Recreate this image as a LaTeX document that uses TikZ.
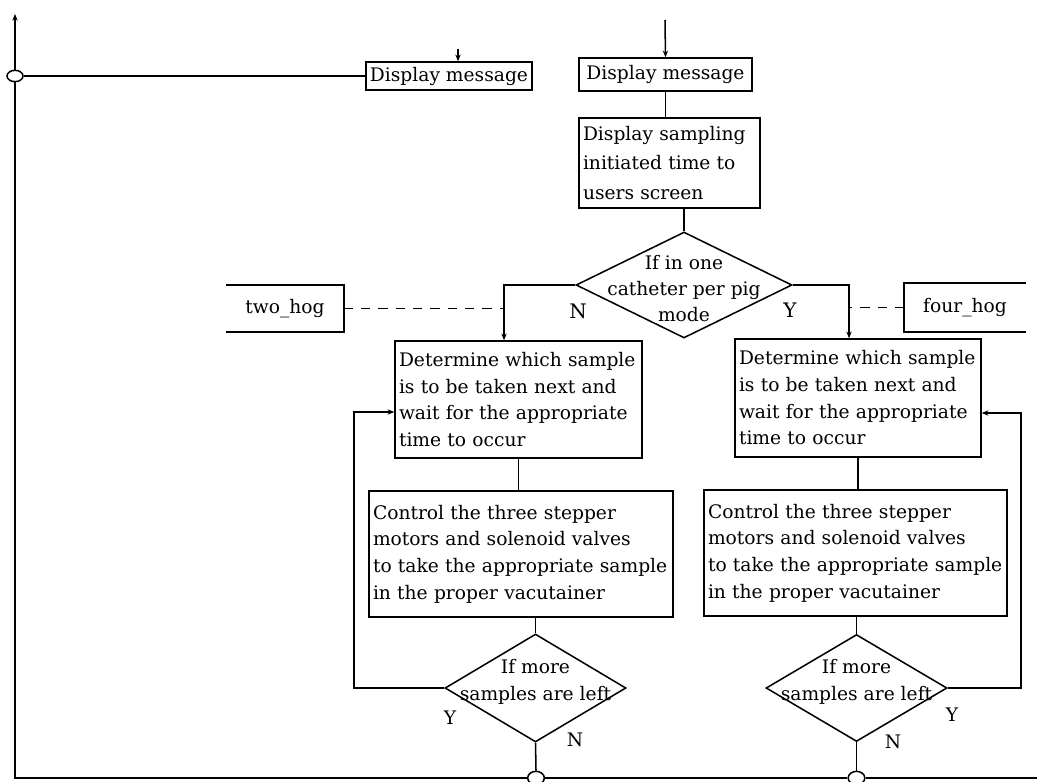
\documentclass[tikz,border=0pt]{standalone}
\usepackage{fontspec}
\setmainfont{DejaVu Serif}
\usetikzlibrary{shapes.geometric,arrows.meta,calc}
\begin{document}
\begin{tikzpicture}[x=0.75pt,y=-0.75pt,
  line width=1.15pt,
  every node/.style={font=\fontsize{14}{20}\selectfont},
  arr/.style={-{Stealth[length=5pt,width=4pt]}},
  sbox/.style={draw,inner sep=0pt,align=center},
  tbox/.style={draw,inner xsep=3pt,inner ysep=0pt,align=left},
  dia/.style={draw,diamond,inner sep=0pt},
  dtext/.style={align=center,inner sep=0pt},
  yn/.style={inner sep=0pt,font=\fontsize{14}{16}\selectfont},
  joint/.style={draw,ellipse,fill=white,inner sep=0pt},
  dashline/.style={dash pattern=on 7pt off 6pt}
]
\useasboundingbox (0,0) rectangle (1037,781);
\fill[white] (0,0) rectangle (1037,781);

% top display messages
\node[sbox,minimum width=124.5pt,minimum height=21pt] (dm1) at (449,76) {Display message};
\node[sbox,minimum width=129.75pt,minimum height=24.75pt] (dm2) at (665.5,74.5) {Display message};
\node[tbox,text width=129.75pt,minimum height=67.5pt,font=\fontsize{14}{22}\selectfont] (ds) at (669.5,163)
  {Display sampling\\initiated time to\\users screen};

% big decision
\node[dia,minimum width=162pt,minimum height=79.5pt] (bd) at (684,285) {};
\node[dtext,font=\fontsize{14}{19.5}\selectfont] (bdt) at (684,289) {If in one\\catheter per pig\\mode};
\node[yn,font=\fontsize{15}{16}\selectfont] (bn) at (578,311) {N};
\node[yn,font=\fontsize{15}{16}\selectfont] (by) at (790,310) {Y};

% hog boxes (open on one side)
\node[inner sep=0pt,minimum width=87pt,minimum height=33.75pt] (two) at (285,308.5) {two\_hog};
\draw (two.north west) -- (two.north east) -- (two.south east) -- (two.south west);
\node[inner sep=0pt,minimum width=90pt,minimum height=35.25pt] (four) at (965,307.5) {four\_hog};
\draw (four.north east) -- (four.north west) -- (four.south west) -- (four.south east);

% left column
\node[tbox,text width=179.25pt,minimum height=87.75pt] (ldet) at (518.5,399.5)
  {Determine which sample\\is to be taken next and\\wait for the appropriate\\time to occur};
\node[tbox,text width=222pt,minimum height=94.5pt] (lctl) at (521,554)
  {Control the three stepper\\motors and solenoid valves\\to take the appropriate sample\\in the proper vacutainer};
\node[dia,minimum width=135.75pt,minimum height=81pt] (ldia) at (535.5,688) {};
\node[dtext,font=\fontsize{14}{20}\selectfont] (ldt) at (535.5,682) {If more\\samples are left};
\node[yn] (ly) at (450,718) {Y};
\node[yn] (ln) at (575,740) {N};

% right column
\node[tbox,text width=178.5pt,minimum height=88.5pt] (rdet) at (858,398)
  {Determine which sample\\is to be taken next and\\wait for the appropriate\\time to occur};
\node[tbox,text width=221.25pt,minimum height=94.5pt] (rctl) at (855.5,553)
  {Control the three stepper\\motors and solenoid valves\\to take the appropriate sample\\in the proper vacutainer};
\node[dia,minimum width=135.75pt,minimum height=80.25pt] (rdia) at (856.5,688) {};
\node[dtext,font=\fontsize{14}{20}\selectfont] (rdt) at (856.5,682) {If more\\samples are left};
\node[yn] (ry) at (952,715) {Y};
\node[yn] (rn) at (893,742) {N};

% joints
\node[joint,minimum width=12pt,minimum height=8.5pt] (c1) at (15,76) {};
\node[joint,minimum width=12.5pt,minimum height=10pt] (lc) at (536,778) {};
\node[joint,minimum width=12.5pt,minimum height=10pt] (rc) at (856.5,778) {};

% coordinates
\coordinate (top) at (15,14);
\coordinate (corner) at (15,778);
\coordinate (bend) at (1037,778);
\coordinate (dm2in) at (665,20);
\coordinate (dm1in) at (458,49);
\coordinate (nturn) at (504,285);
\coordinate (yturn) at (849,285);

% connectors
\draw[arr] (c1.north) -- (top);
\draw (c1.south) -- (corner) -- (lc.west);
\draw (lc.east) -- (rc.west);
\draw (rc.east) -- (bend);
\draw (c1.east) -- (dm1.west);
\draw[arr] (dm1in) -- (dm1in |- dm1.north);
\draw[arr] (dm2in) -- (dm2.north);
\draw (dm2.south) -- (dm2.south |- ds.north);
\draw (bd.north) -- (bd.north |- ds.south);

\draw[arr] (bd.west) -- (nturn) -- (nturn |- ldet.north);
\draw[arr] (bd.east) -- (yturn) -- (yturn |- rdet.north);
\draw[dashline] (two.east) -- (two.east -| nturn);
\draw[dashline] (four.west) -- (four.west -| yturn);

\draw (ldet.south) -- (ldet.south |- lctl.north);
\draw (ldia.north) -- (ldia.north |- lctl.south);
\draw (ldia.south) -- (lc.north);
\draw[arr] (ldia.west) -- ++(-90,0) |- ($(ldet.west)+(0,12.5)$);

\draw (rdet.south) -- (rdet.south |- rctl.north);
\draw (rdia.north) -- (rdia.north |- rctl.south);
\draw (rdia.south) -- (rc.north);
\draw[arr] (rdia.east) -- ++(73,0) |- ($(rdet.east)+(0,15)$);
\end{tikzpicture}
\end{document}
